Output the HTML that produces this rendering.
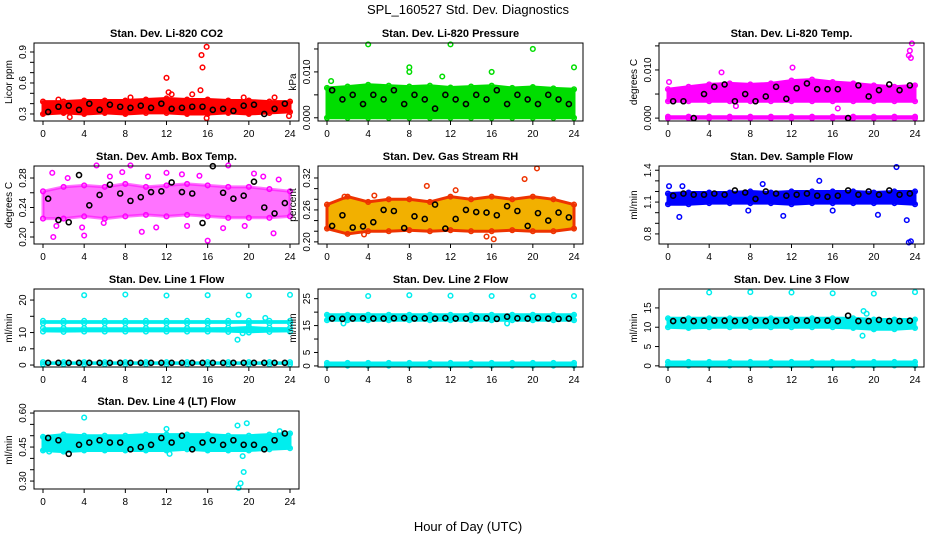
<!DOCTYPE html>
<html><head><meta charset="utf-8">
<style>
body{margin:0;background:#fff;}
svg{display:block;font-family:"Liberation Sans",Arial,sans-serif;}
</style></head>
<body>
<svg id="chart" width="936" height="540" viewBox="0 0 936 540" xmlns="http://www.w3.org/2000/svg">
<rect width="936" height="540" fill="#fff"/>
<text x="468" y="14" text-anchor="middle" font-size="13">SPL_160527  Std. Dev. Diagnostics</text>
<text x="468" y="531" text-anchor="middle" font-size="13">Hour of Day (UTC)</text>
</svg>
<script>
// shared hour positions
const bandHours = [0,2,4,6,8,10,12,14,16,18,20,22,24];
const meanHours = [0.5,1.5,2.5,3.5,4.5,5.5,6.5,7.5,8.5,9.5,10.5,11.5,12.5,13.5,14.5,15.5,16.5,17.5,18.5,19.5,20.5,21.5,22.5,23.5];
const xTicks = [0,4,8,12,16,20,24];

// Panel 1: CO2
const co2Lo = [0.30,0.31,0.30,0.31,0.30,0.31,0.31,0.30,0.30,0.31,0.30,0.31,0.32];
const co2Hi = [0.42,0.42,0.43,0.43,0.43,0.44,0.45,0.44,0.44,0.43,0.43,0.42,0.42];
const co2Mean = [0.32,0.37,0.38,0.34,0.40,0.34,0.39,0.37,0.36,0.38,0.36,0.40,0.35,0.36,0.37,0.37,0.34,0.35,0.33,0.38,0.39,0.30,0.35,0.40];
const co2Out = [[12.0,0.65],[15.4,0.87],[15.5,0.75],[15.9,0.95],[15.3,0.53],[15.9,0.26],[2.6,0.27],[14.5,0.49],[12.2,0.51],[12.5,0.49],[23.9,0.28],[8.5,0.46],[1.5,0.44],[19.5,0.46],[22.5,0.46]];
// Panel 2: Pressure
const prLo = [0.000,0.000,0.000,0.000,0.000,0.000,0.000,0.000,0.000,0.000,0.000,0.000,0.000];
const prHi = [0.0065,0.0068,0.0072,0.0070,0.0068,0.0070,0.0066,0.0068,0.0070,0.0065,0.0067,0.0064,0.0062];
const prMean = [0.006,0.004,0.005,0.003,0.005,0.004,0.006,0.003,0.005,0.004,0.002,0.005,0.004,0.003,0.005,0.004,0.006,0.003,0.005,0.004,0.003,0.005,0.004,0.003];
const prOut = [[4,0.016],[12,0.016],[20,0.015],[8,0.011],[16,0.010],[24,0.011],[0.4,0.008],[8,0.010],[11.2,0.009]];
// Panel 3: Temp
const tmLo = [0.0035,0.0035,0.0035,0.0035,0.0035,0.0035,0.0035,0.0035,0.0035,0.0035,0.0035,0.0035,0.0035];
const tmHi = [0.0060,0.0065,0.0070,0.0072,0.0070,0.0072,0.0078,0.0080,0.0075,0.0072,0.0068,0.0065,0.0068];
const tmZeroLo = [0,0,0,0,0,0,0,0,0,0,0,0,0];
const tmZeroHi = [0.0003,0.0003,0.0003,0.0003,0.0003,0.0003,0.0003,0.0003,0.0003,0.0003,0.0003,0.0003,0.0003];
const tmMean = [0.0035,0.0035,0.0000,0.0050,0.0065,0.0070,0.0035,0.0050,0.0035,0.0045,0.0065,0.0040,0.0062,0.0072,0.0060,0.0060,0.0060,0.0000,0.0068,0.0045,0.0058,0.0070,0.0058,0.0068];
const tmOut = [[23.5,0.014],[23.6,0.0125],[23.4,0.013],[23.7,0.0155],[12.1,0.0105],[5.2,0.0095],[0.1,0.0075],[16.5,0.002],[6.6,0.0025]];
// Panel 4: Amb box temp
const abLo = [0.225,0.225,0.228,0.225,0.228,0.230,0.228,0.230,0.228,0.226,0.226,0.226,0.228];
const abHi = [0.262,0.268,0.270,0.268,0.272,0.268,0.270,0.272,0.270,0.268,0.268,0.265,0.262];
const abMean = [0.252,0.223,0.220,0.284,0.243,0.257,0.271,0.259,0.249,0.254,0.261,0.262,0.274,0.261,0.259,0.219,0.296,0.260,0.252,0.256,0.275,0.240,0.232,0.246];
const abOut = [[1.0,0.200],[4.0,0.202],[16.0,0.195],[0.9,0.287],[5.2,0.297],[8.5,0.297],[18.0,0.297],[9.6,0.207],[22.4,0.205],[3.8,0.213],[12.0,0.287],[20.5,0.286],[13.5,0.285],[2.4,0.280],[6.5,0.282],[10.2,0.282],[14.0,0.215],[19.6,0.215],[1.3,0.215],[7.7,0.288],[11.0,0.213],[17.5,0.212],[22.9,0.278],[15.2,0.283],[5.9,0.219],[21.4,0.282]];
// Panel 5: Gas stream RH
const rhLo = [0.225,0.215,0.220,0.220,0.222,0.220,0.222,0.220,0.220,0.222,0.220,0.220,0.225];
const rhHi = [0.270,0.285,0.275,0.280,0.280,0.275,0.285,0.280,0.285,0.280,0.285,0.280,0.270];
const rhMean = [0.230,0.250,0.227,0.229,0.237,0.260,0.258,0.226,0.248,0.243,0.270,0.225,0.243,0.260,0.256,0.255,0.250,0.267,0.258,0.230,0.254,0.240,0.255,0.246];
const rhOut = [[20.4,0.338],[19.2,0.318],[9.7,0.305],[12.5,0.297],[4.6,0.287],[1.7,0.285],[15.5,0.210],[16.2,0.205],[3.6,0.214]];
// Panel 6: Sample flow
const sfLo = [1.08,1.08,1.09,1.09,1.09,1.09,1.08,1.09,1.09,1.09,1.09,1.09,1.08];
const sfHi = [1.18,1.19,1.19,1.19,1.20,1.19,1.20,1.20,1.20,1.20,1.19,1.20,1.20];
const sfMean = [1.16,1.18,1.17,1.17,1.18,1.17,1.21,1.19,1.13,1.20,1.18,1.16,1.17,1.18,1.16,1.15,1.16,1.21,1.17,1.20,1.17,1.21,1.17,1.18];
const sfOut = [[22.2,1.43],[23.4,0.72],[23.6,0.73],[23.2,0.93],[1.1,0.96],[11.2,0.97],[0.1,1.25],[1.4,1.25],[14.7,1.30],[9.2,1.27],[7.8,1.02],[20.4,0.98],[16.0,1.02]];
// Panel 7: Line 1 flow
const l1aLo = [10.3,10.2,10.3,10.3,10.3,10.3,10.3,10.3,10.3,10.2,10.0,10.2,10.3];
const l1aHi = [11.4,11.4,11.4,11.4,11.4,11.4,11.4,11.4,11.4,11.5,11.8,11.5,11.4];
const l1bLo = [12.9,12.9,12.9,12.9,12.9,12.9,12.9,12.9,12.9,12.9,12.9,12.9,12.9];
const l1bHi = [13.6,13.6,13.6,13.6,13.6,13.6,13.6,13.6,13.6,13.6,13.6,13.6,13.6];
const l1cLo = [0.3,0.3,0.3,0.3,0.3,0.3,0.3,0.3,0.3,0.3,0.3,0.3,0.3];
const l1cHi = [0.9,0.9,0.9,0.9,0.9,0.9,0.9,0.9,0.9,0.9,0.9,0.9,0.9];
const l1Mean = [0.7,0.7,0.7,0.7,0.7,0.7,0.7,0.7,0.7,0.7,0.7,0.7,0.7,0.7,0.7,0.7,0.7,0.7,0.7,0.7,0.7,0.7,0.7,0.7];
const l1Out = [[4,21.5],[8,21.7],[12,21.4],[16,21.5],[20,21.4],[24,21.6],[19,15.5],[18.9,7.8],[19.4,9.8],[21.6,14.5]];
// Panel 8: Line 2 flow
const l2aLo = [17.0,17.0,17.0,17.0,17.0,17.0,17.0,17.0,17.0,17.0,17.0,17.0,17.0];
const l2aHi = [19.0,19.0,19.0,19.0,19.0,19.0,19.0,19.0,19.0,19.0,19.0,19.0,19.0];
const l2bLo = [0.1,0.1,0.1,0.1,0.1,0.1,0.1,0.1,0.1,0.1,0.1,0.1,0.1];
const l2bHi = [1.1,1.1,1.1,1.1,1.1,1.1,1.1,1.1,1.1,1.1,1.1,1.1,1.1];
const l2Mean = [17.6,17.5,17.6,17.7,17.6,17.6,17.7,17.8,17.6,17.7,17.6,17.8,17.6,17.6,17.8,17.7,17.5,18.3,17.7,17.6,17.8,17.6,17.5,17.6];
const l2Out = [[4,26.0],[8,26.3],[12,26.1],[16,26.0],[20,25.9],[24,26.0],[1.6,15.8],[17.5,15.8]];
// Panel 9: Line 3 flow
const l3aLo = [10.0,9.8,10.0,10.0,10.0,10.0,10.0,10.0,10.0,9.8,9.5,9.5,9.8];
const l3aHi = [12.3,12.3,12.3,12.3,12.3,12.3,12.3,12.3,12.3,12.3,12.0,12.0,12.0];
const l3bLo = [0.1,0.1,0.1,0.1,0.1,0.1,0.1,0.1,0.1,0.1,0.1,0.1,0.1];
const l3bHi = [1.0,1.0,1.0,1.0,1.0,1.0,1.0,1.0,1.0,1.0,1.0,1.0,1.0];
const l3Mean = [11.6,11.8,11.6,11.7,11.7,11.7,11.6,11.7,11.7,11.6,11.6,11.7,11.8,11.7,11.8,11.7,11.6,13.0,11.6,11.6,11.9,11.6,11.6,11.7];
const l3Out = [[4,19.0],[8,19.1],[12,19.0],[16,18.8],[20,18.7],[24,19.1],[19,14.2],[19.3,13.5],[18.9,7.8],[20,9.5]];
// Panel 10: Line 4 flow
const l4Lo = [0.435,0.430,0.435,0.435,0.435,0.435,0.435,0.440,0.435,0.435,0.435,0.440,0.445];
const l4Hi = [0.495,0.505,0.500,0.500,0.500,0.505,0.505,0.505,0.505,0.500,0.500,0.505,0.510];
const l4Mean = [0.490,0.480,0.420,0.460,0.470,0.480,0.470,0.470,0.440,0.450,0.460,0.490,0.470,0.500,0.440,0.470,0.480,0.460,0.480,0.460,0.460,0.440,0.480,0.510];
const l4Out = [[4,0.580],[18.9,0.545],[19.8,0.555],[19.0,0.270],[19.2,0.290],[19.5,0.340],[19.4,0.410],[0.6,0.430],[12,0.530],[12.3,0.420],[23.0,0.520]];

const svg = document.getElementById('chart');
const NS = 'http://www.w3.org/2000/svg';
function mk(tag, attrs, parent){ const e=document.createElementNS(NS,tag); for(const k in attrs) e.setAttribute(k,attrs[k]); parent.appendChild(e); return e; }

const colLeft = [34, 318, 659];
const rowTop = [43, 166, 289, 411];
const boxW = 265, boxH = 78;

const panels = [
 {name:'co2', title:'Stan. Dev. Li-820 CO2', ylab:'Licor ppm', c:0,r:0, dom:[0.232,0.987], ticks:[0.3,0.4,0.5,0.6,0.7,0.8,0.9], labels:[0.3,0.6,0.9], fmt:v=>v.toFixed(1), color:'#ff0000', bands:[[co2Lo,co2Hi]], mean:co2Mean, out:co2Out},
 {name:'pressure', title:'Stan. Dev. Li-820 Pressure', ylab:'kPa', c:1,r:0, dom:[-0.0007,0.0163], ticks:[0,0.005,0.010,0.015], labels:[0,0.010], fmt:v=>v.toFixed(3), color:'#00dd00', bands:[[prLo,prHi]], mean:prMean, out:prOut},
 {name:'temp', title:'Stan. Dev. Li-820 Temp.', ylab:'degrees C', c:2,r:0, dom:[-0.0006,0.0156], ticks:[0,0.005,0.010,0.015], labels:[0,0.010], fmt:v=>v.toFixed(3), color:'#ff00ff', bands:[[tmLo,tmHi],[tmZeroLo,tmZeroHi]], mean:tmMean, out:tmOut},
 {name:'amb-box-temp', title:'Stan. Dev. Amb. Box Temp.', ylab:'degrees C', c:0,r:1, dom:[0.1905,0.2963], ticks:[0.20,0.22,0.24,0.26,0.28], labels:[0.20,0.24,0.28], fmt:v=>v.toFixed(2), color:'#ff00ff', opacity:0.55, bands:[[abLo,abHi]], mean:abMean, out:abOut},
 {name:'gas-rh', title:'Stan. Dev. Gas Stream RH', ylab:'percent', c:1,r:1, dom:[0.196,0.3425], ticks:[0.20,0.22,0.24,0.26,0.28,0.30,0.32], labels:[0.20,0.26,0.32], fmt:v=>v.toFixed(2), color:'#ee3300', fill:'#f2b000', bands:[[rhLo,rhHi]], mean:rhMean, out:rhOut},
 {name:'sample-flow', title:'Stan. Dev. Sample Flow', ylab:'ml/min', c:2,r:1, dom:[0.705,1.44], ticks:[0.8,0.9,1.0,1.1,1.2,1.3,1.4], labels:[0.8,1.1,1.4], fmt:v=>v.toFixed(1), color:'#0000ff', bands:[[sfLo,sfHi]], mean:sfMean, out:sfOut},
 {name:'line1-flow', title:'Stan. Dev. Line 1 Flow', ylab:'ml/min', c:0,r:2, dom:[-0.6,23.4], ticks:[0,5,10,15,20], labels:[0,5,10,20], fmt:v=>String(v), color:'#00eeee', sw:1.5, bands:[[l1aLo,l1aHi],[l1bLo,l1bHi],[l1cLo,l1cHi]], mean:l1Mean, out:l1Out},
 {name:'line2-flow', title:'Stan. Dev. Line 2 Flow', ylab:'ml/min', c:1,r:2, dom:[-0.4,28.6], ticks:[0,5,10,15,20,25], labels:[0,5,15,25], fmt:v=>String(v), color:'#00eeee', bands:[[l2aLo,l2aHi],[l2bLo,l2bHi]], mean:l2Mean, out:l2Out},
 {name:'line3-flow', title:'Stan. Dev. Line 3 Flow', ylab:'ml/min', c:2,r:2, dom:[-0.3,19.9], ticks:[0,5,10,15], labels:[0,5,10,15], fmt:v=>String(v), color:'#00eeee', bands:[[l3aLo,l3aHi],[l3bLo,l3bHi]], mean:l3Mean, out:l3Out},
 {name:'line4-flow', title:'Stan. Dev. Line 4 (LT) Flow', ylab:'ml/min', c:0,r:3, dom:[0.265,0.609], ticks:[0.30,0.35,0.40,0.45,0.50,0.55,0.60], labels:[0.30,0.45,0.60], fmt:v=>v.toFixed(2), color:'#00eeee', bands:[[l4Lo,l4Hi]], mean:l4Mean, out:l4Out}
];

panels.forEach(p=>{
  const L = colLeft[p.c], T = rowTop[p.r], B = T+boxH;
  const xS = h => L + 9 + h*(247/24);
  const yS = v => B - (v - p.dom[0])/(p.dom[1]-p.dom[0])*boxH;
  const g = mk('g',{},svg);
  
  
  const t = mk('text',{x:L+boxW/2,y:T-6,'text-anchor':'middle','font-size':'11','font-weight':'bold'},g);
  t.textContent = p.title;
  
  
  p.bands.forEach(b=>{
    let d='';
    bandHours.forEach((h,i)=>{ d += (i?'L':'M')+xS(h).toFixed(1)+','+yS(b[1][i]).toFixed(1); });
    for(let i=bandHours.length-1;i>=0;i--) d += 'L'+xS(bandHours[i]).toFixed(1)+','+yS(b[0][i]).toFixed(1);
    const pa = mk('path',{d:d+'Z',fill:p.fill||p.color,'fill-opacity':p.opacity||1,stroke:p.color,'stroke-opacity':p.opacity||1,'stroke-width':p.sw||3,'stroke-linejoin':'round'},g);
    
    
    bandHours.forEach((h,i)=>{
      [b[0][i],b[1][i]].forEach(v=>{
        const c = mk('circle',{cx:xS(h),cy:yS(v),r:2.3,fill:'none',stroke:p.color,'stroke-width':'1.5'},g);
        
        
      });
    });
  });
  p.out.forEach(o=>{
    const c = mk('circle',{cx:xS(o[0]),cy:yS(o[1]),r:2.3,fill:'none',stroke:p.color,'stroke-width':'1.5'},g);
    
    
  });
  p.mean.forEach((v,i)=>{
    const c = mk('circle',{cx:xS(meanHours[i]),cy:yS(v),r:2.5,fill:'none',stroke:'#000','stroke-width':'1.6'},g);
    
    
  });
  const bx = mk('rect',{x:L,y:T,width:boxW,height:boxH,fill:'none',stroke:'#000','stroke-width':'1'},g);
  
  
  mk('line',{x1:xS(0),x2:xS(24),y1:B,y2:B,stroke:'#000'},g);
  xTicks.forEach(h=>{
    mk('line',{x1:xS(h),x2:xS(h),y1:B,y2:B+4,stroke:'#000'},g);
    const tx = mk('text',{x:xS(h),y:B+16,'text-anchor':'middle','font-size':'10'},g);
    tx.textContent = String(h);
    
    
  });
  const yt0 = p.ticks[0], yt1 = p.ticks[p.ticks.length-1];
  mk('line',{x1:L,x2:L,y1:yS(yt0),y2:yS(yt1),stroke:'#000'},g);
  p.ticks.forEach(v=>{ mk('line',{x1:L-4,x2:L,y1:yS(v),y2:yS(v),stroke:'#000'},g); });
  p.labels.forEach(v=>{
    const y = yS(v);
    const tx = mk('text',{x:L-8,y:y,'text-anchor':'middle','font-size':'10',transform:'rotate(-90 '+(L-8)+' '+y+')'},g);
    tx.textContent = p.fmt(v);
    
    
  });
  const ym = T+boxH/2;
  const yl = mk('text',{x:L-22,y:ym,'text-anchor':'middle','font-size':'10',transform:'rotate(-90 '+(L-22)+' '+ym+')'},g);
  yl.textContent = p.ylab;
  
  
});
</script>
</body></html>
